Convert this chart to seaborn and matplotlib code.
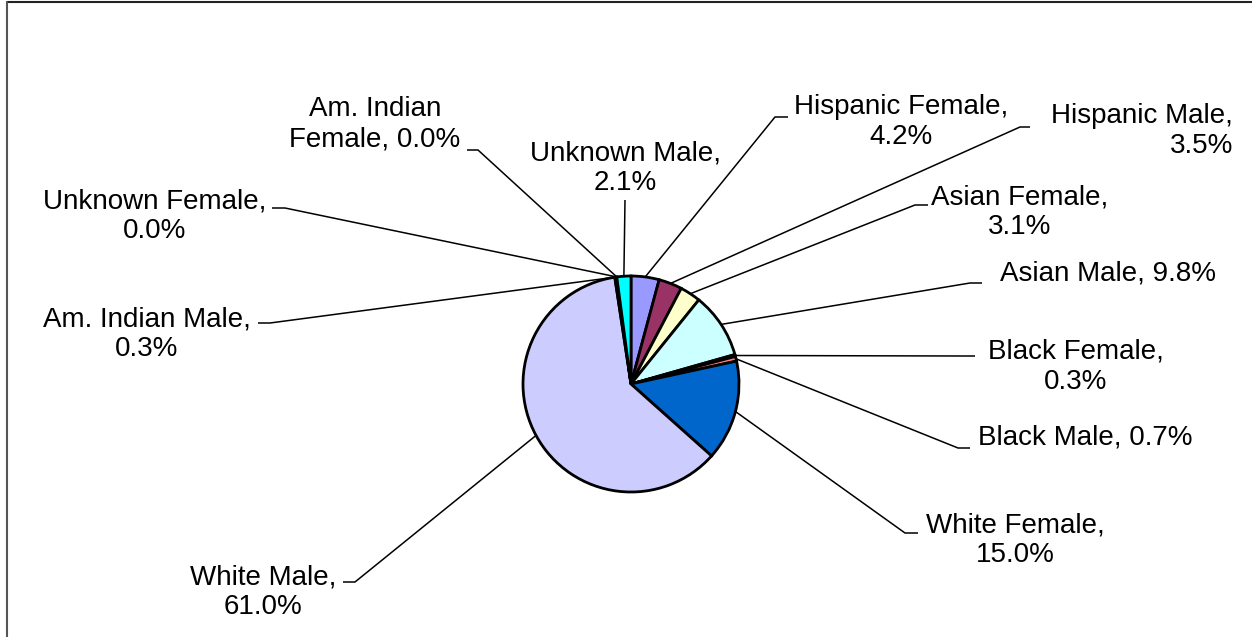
import matplotlib
matplotlib.use("Agg")
import matplotlib.pyplot as plt
import seaborn as sns
import numpy as np
from matplotlib.lines import Line2D

# slice data, clockwise from 12 o'clock
groups = ["Hispanic Female", "Hispanic Male", "Asian Female", "Asian Male",
          "Black Female", "Black Male", "White Female", "White Male",
          "Am. Indian Male", "Unknown Female", "Am. Indian\nFemale", "Unknown Male"]
shares = [4.2, 3.5, 3.1, 9.8, 0.3, 0.7, 15.0, 61.0, 0.3, 0.0, 0.0, 2.1]
breaks = ["\n", "\n", "\n", " ", "\n", " ", "\n", "\n", "\n", "\n", " ", "\n"]
colors = ["#9999FF", "#993366", "#FFFFCC", "#CCFFFF", "#660066", "#FF8080",
          "#0066CC", "#CCCCFF", "#000080", "#FF00FF", "#FFFF00", "#00FFFF"]

# label layout in pixel coords (x, y down): text anchor, elbow, stub end
text_pos = [(901, 122), (1233, 131), (1020, 212), (1108, 273),
            (1076, 367), (1085, 438), (1015, 540), (263, 592),
            (147, 334), (155, 216), (375, 124), (625, 168)]
text_ha = ["center", "right", "center", "center", "center", "center",
           "center", "center", "center", "center", "center", "center"]
elbows = [(775, 117), (1020, 127), (915, 205), (970, 283),
          (963, 356), (958, 448), (905, 533), (355, 582),
          (270, 323), (285, 208), (478, 150), None]
stubs = [(788, 117), (1030, 127), (928, 205), (982, 283),
         (975, 356), (970, 448), (918, 533), (343, 582),
         (258, 323), (272, 208), (467, 150), (625, 200)]

sns.set_theme(style="white")
plt.rcParams["font.family"] = ["Liberation Sans", "DejaVu Sans"]

W, H = 1252, 637
fig = plt.figure(figsize=(W / 100, H / 100), dpi=100)
fig.patch.set_facecolor("white")
ax = fig.add_axes([0, 0, 1, 1])

palette = sns.color_palette(colors)
wedges, _ = ax.pie(shares, colors=palette, startangle=-90, counterclock=True,
                   center=(631, 384), radius=108,
                   wedgeprops=dict(edgecolor="black", linewidth=2.0))
ax.set_xlim(0, W)
ax.set_ylim(H, 0)
ax.set_aspect("equal")
ax.axis("off")

for i, w in enumerate(wedges):
    mid = np.deg2rad((w.theta1 + w.theta2) / 2)
    cx, cy = w.center
    px, py = cx + w.r * np.cos(mid), cy + w.r * np.sin(mid)
    pts = [(px, py)]
    if elbows[i] is not None:
        pts.append(elbows[i])
    pts.append(stubs[i])
    xs, ys = zip(*pts)
    ax.plot(xs, ys, color="black", lw=1.1, solid_capstyle="butt")
    label = f"{groups[i]},{breaks[i]}{shares[i]:.1f}%"
    ax.text(text_pos[i][0], text_pos[i][1], label, ha=text_ha[i], va="center",
            multialignment=text_ha[i], fontsize=20, linespacing=1.2, color="black")

# chart area border (top and left edges visible)
fig.add_artist(Line2D([7 / W, 1], [1 - 2 / H, 1 - 2 / H], color="#222222", lw=1.5))
fig.add_artist(Line2D([7 / W, 7 / W], [0, 1 - 2 / H], color="#555555", lw=1.5))

fig.savefig("out.png", dpi=100)
